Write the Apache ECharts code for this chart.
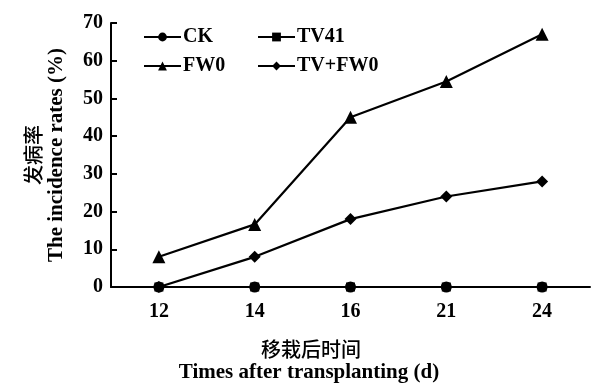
<!DOCTYPE html>
<html><head><meta charset="utf-8">
<script src="https://cdn.jsdelivr.net/npm/echarts@6/dist/echarts.min.js"></script>
<style>html,body{margin:0;padding:0;background:#fff}#c{width:595px;height:387px}</style>
</head><body><div id="c"></div>
<script>
var categories = ['12', '14', '16', '21', '24'];
var ck = [0, 0, 0, 0, 0];
var tv41 = [0, 0, 0, 0, 0];
var fw0 = [8, 16.6, 45, 54.5, 67];
var tvfw0 = [0, 8, 18, 24, 28];
var yTicks = [0, 10, 20, 30, 40, 50, 60, 70];

var F = '"Liberation Serif", "Times New Roman", serif';
var CJK = '"Noto Sans CJK SC", sans-serif';
var chart = echarts.init(document.getElementById('c'));
function ser(name, data, symbol, size) {
  return {name: name, type: 'line', data: data, symbol: symbol, symbolSize: size,
    lineStyle: {color: '#000', width: 2.2}, itemStyle: {color: '#000'}, z: 3, animation: false};
}
var legendText = {color: '#000', fontFamily: F, fontSize: 20, fontWeight: 'bold', lineHeight: 20, padding: [0, 0, 0, -3]};
chart.setOption({
  animation: false,
  grid: {left: 111, right: 5, top: 23, bottom: 100, outerBoundsMode: 'none', containLabel: false},
  xAxis: {type: 'category', data: categories, boundaryGap: true,
    axisLine: {lineStyle: {color: '#000', width: 2}}, axisTick: {show: false},
    axisLabel: {color: '#000', fontFamily: F, fontSize: 20, fontWeight: 'bold', margin: 15}},
  yAxis: {type: 'value', min: yTicks[0], max: yTicks[yTicks.length - 1], interval: 10,
    axisLine: {show: true, lineStyle: {color: '#000', width: 2}},
    axisTick: {show: true, inside: true, length: 6, lineStyle: {color: '#000', width: 2}},
    splitLine: {show: false},
    axisLabel: {color: '#000', fontFamily: F, fontSize: 20, fontWeight: 'bold', margin: 8},
    name: '{cn|发病率}\n{en|The incidence rates (%)}', nameLocation: 'middle', nameRotate: 90, nameGap: 42,
    nameTextStyle: {color: '#000', lineHeight: 24,
      rich: {cn: {fontFamily: CJK, fontSize: 20, fontWeight: 500, lineHeight: 24, color: '#000'},
             en: {fontFamily: F, fontSize: 21, fontWeight: 'bold', lineHeight: 24, color: '#000'}}}},
  legend: [
    {data: ['CK', 'FW0'], orient: 'vertical', left: 138, top: 22, itemWidth: 37, itemHeight: 11, itemGap: 9,
     textStyle: legendText},
    {data: ['TV41', 'TV+FW0'], orient: 'vertical', left: 252, top: 22, itemWidth: 37, itemHeight: 11, itemGap: 9,
     textStyle: legendText}
  ],
  graphic: [
    {type: 'text', x: 311, y: 349, style: {text: '移栽后时间', fill: '#000', font: '500 20px ' + CJK, align: 'center', verticalAlign: 'middle'}},
    {type: 'text', x: 309, y: 373, style: {text: 'Times after transplanting (d)', fill: '#000', font: 'bold 21px ' + F, align: 'center', verticalAlign: 'middle'}}
  ],
  series: [
    ser('FW0', fw0, 'triangle', 13),
    ser('TV+FW0', tvfw0, 'diamond', 12),
    ser('TV41', tv41, 'rect', 9),
    ser('CK', ck, 'circle', 11)
  ]
});
</script></body></html>
